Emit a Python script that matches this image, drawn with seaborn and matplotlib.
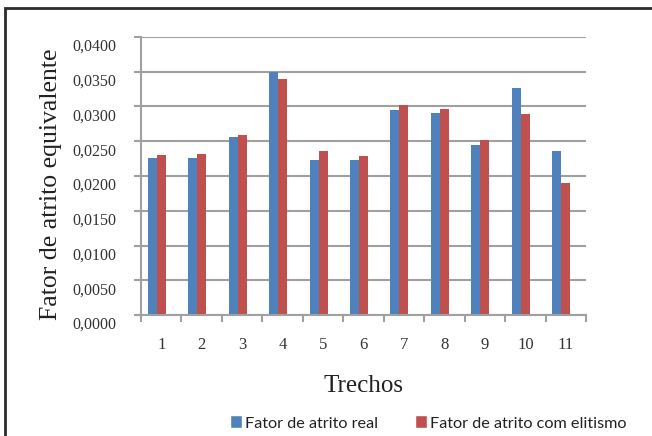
import matplotlib
matplotlib.use("Agg")
import matplotlib.pyplot as plt
import matplotlib.transforms as mtransforms
from matplotlib.patches import Rectangle
from matplotlib.ticker import MultipleLocator, FixedLocator, FuncFormatter
import seaborn as sns
import pandas as pd

# Trechos (pipe sections) and friction factor series
trechos = ["1", "2", "3", "4", "5", "6", "7", "8", "9", "10", "11"]
fator_real = [0.0226, 0.0226, 0.0256, 0.0350, 0.0223, 0.0223, 0.0295, 0.0291, 0.0244, 0.0327, 0.0236]
fator_elitismo = [0.0230, 0.0232, 0.0259, 0.0339, 0.0236, 0.0229, 0.0302, 0.0297, 0.0252, 0.0289, 0.0190]
serie_nomes = ["Fator de atrito real", "Fator de atrito com elitismo"]

BLUE = "#4F81BD"
RED = "#C0504D"
GRID = "#A0A0A0"
TXT = "#333333"

df = pd.DataFrame({
    "Trecho": trechos * 2,
    "valor": fator_real + fator_elitismo,
    "serie": [serie_nomes[0]] * len(trechos) + [serie_nomes[1]] * len(trechos),
})

sns.set_theme(style="white")
plt.rcParams["font.family"] = ["Liberation Serif", "DejaVu Serif"]

fig = plt.figure(figsize=(6.52, 4.36), dpi=100)
ax = fig.add_axes([141 / 652, 1 - 315 / 436, 445 / 652, 278 / 436])

# third (empty) slot keeps the cluster layout of the original spreadsheet chart
hue_levels = serie_nomes + ["_vazio"]
sns.barplot(
    data=df, x="Trecho", y="valor", hue="serie", order=trechos,
    hue_order=hue_levels,
    palette={serie_nomes[0]: BLUE, serie_nomes[1]: RED, "_vazio": "white"},
    width=0.667, saturation=1, linewidth=0, legend=False, ax=ax, errorbar=None,
)

ax.set_xlim(-0.5, len(trechos) - 0.5)
ax.set_ylim(0, 0.04)
ax.yaxis.set_major_locator(MultipleLocator(0.005))
ax.yaxis.set_major_formatter(FuncFormatter(lambda v, p: f"{v:.4f}".replace(".", ",")))
ax.set_axisbelow(True)
ax.grid(axis="y", color=GRID, linewidth=1.5)
ax.grid(axis="x", visible=False)

for side in ("top", "right"):
    ax.spines[side].set_visible(False)
for side in ("left", "bottom"):
    ax.spines[side].set_color(GRID)
    ax.spines[side].set_linewidth(1.5)

# tick marks on category boundaries, labels on category centres
ax.xaxis.set_minor_locator(FixedLocator([i - 0.5 for i in range(len(trechos) + 1)]))
ax.tick_params(axis="x", which="major", length=0, pad=16, labelsize=12, labelcolor=TXT)
ax.tick_params(axis="x", which="minor", length=5, width=1.5, color=GRID, direction="out", bottom=True)
ax.tick_params(axis="y", which="major", length=5, width=1.5, color=GRID, direction="out",
               left=True, pad=13, labelsize=11.5, labelcolor=TXT)

offset = mtransforms.ScaledTranslation(0, -8 / 100, fig.dpi_scale_trans)
for lbl in ax.get_yticklabels():
    lbl.set_transform(lbl.get_transform() + offset)

ax.set_xlabel("Trechos", fontsize=18, color="#222222", labelpad=16)
ax.set_ylabel("Fator de atrito equivalente", fontsize=18.5, color="#222222")
ax.yaxis.set_label_coords(-0.177, 0.47)

handles = [Rectangle((0, 0), 1, 1, facecolor=BLUE), Rectangle((0, 0), 1, 1, facecolor=RED)]
fig.legend(handles, serie_nomes, loc="center", bbox_to_anchor=(428 / 652, 1 - 423 / 436),
           ncol=2, frameon=False, handlelength=0.75, handleheight=0.85, handletextpad=0.15,
           columnspacing=2.3, prop={"family": ["Lato", "DejaVu Sans"], "size": 11.7},
           labelcolor="#222222")

# outer chart frame
fig.patches.append(Rectangle((4.5 / 652, -0.1), 1.2, 1.1 - 8.5 / 436, transform=fig.transFigure,
                             fill=False, edgecolor="#2b2b2b", linewidth=2.0))

fig.savefig("out.png", dpi=100)
